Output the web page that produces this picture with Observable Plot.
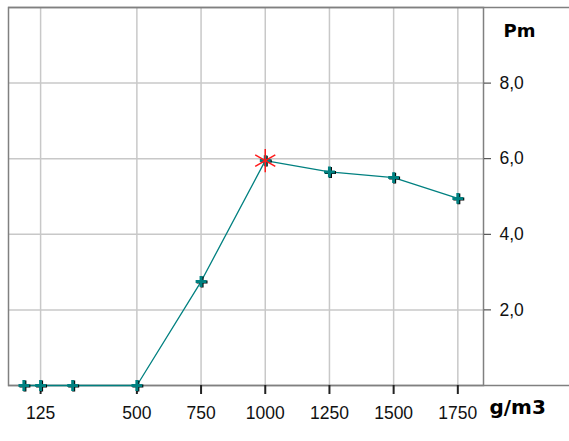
<!DOCTYPE html>
<html>
<head>
<meta charset="utf-8">
<script src="https://cdn.jsdelivr.net/npm/d3@7"></script>
<script src="https://cdn.jsdelivr.net/npm/@observablehq/plot@0.6"></script>
<style>
  html, body { margin: 0; padding: 0; background: #fff; }
  #chart svg { display: block; font-family: "Liberation Sans", Arial, sans-serif; }
</style>
</head>
<body>
<div id="chart"></div>
<script>
// Data
const concentration = [60, 125, 250, 500, 750, 1000, 1250, 1500, 1750]; // g/m3
const pressure      = [0, 0, 0, 0, 2.75, 5.95, 5.65, 5.5, 4.95];        // Pm
const xTicks = [125, 500, 750, 1000, 1250, 1500, 1750];
const yTicks = [2, 4, 6, 8];
const xDomain = [0, 1850];
const yDomain = [0, 10];
const xUnit = "g/m3";
const yUnit = "Pm";

const data = concentration.map((c, i) => ({c, p: pressure[i]}));
const maxP = d3.max(pressure);
const peak = data.filter(d => d.p === maxP);

const teal = "#008080";
const borderColor = "#808080";

// extends top & bottom border lines into the right margin (as in the reference)
function borderExtension(index, scales, values, dims) {
  const g = d3.create("svg:g").attr("stroke", borderColor).attr("stroke-width", 1.5);
  for (const v of yDomain) {
    const y = Math.round(scales.y(v)) + 0.5;
    g.append("line").attr("x1", dims.marginLeft).attr("x2", dims.width)
      .attr("y1", y).attr("y2", y);
  }
  return g.node();
}

const chart = Plot.plot({
  width: 569,
  height: 441,
  marginLeft: 8,
  marginTop: 7,
  marginRight: 86,
  marginBottom: 56,
  style: {background: "#fff", fontSize: "17px"},
  x: {domain: xDomain, label: null},
  y: {domain: yDomain, label: null},
  marks: [
    Plot.gridX(xTicks, {stroke: "#c8c8c8", strokeOpacity: 1, strokeWidth: 1.5}),
    Plot.gridY(yTicks, {stroke: "#c8c8c8", strokeOpacity: 1, strokeWidth: 1.5}),
    Plot.frame({stroke: borderColor, strokeWidth: 1.5}),
    borderExtension,
    Plot.axisX({ticks: xTicks, tickSize: 9, tickPadding: 12, tickFormat: d => String(d), label: null,
      fontSize: 17.5, stroke: "#222", strokeWidth: 2, fill: "#111"}),
    Plot.axisY({anchor: "right", ticks: yTicks, tickSize: 7, tickPadding: 9, label: null,
      tickFormat: d => d.toFixed(1).replace(".", ","), fontSize: 17.5, stroke: "#333", fill: "#111"}),
    Plot.text([yUnit], {frameAnchor: "top-right", dx: 20, dy: 17, textAnchor: "start",
      fontWeight: "bold", fontSize: 18, fontFamily: "DejaVu Sans", fill: "#000"}),
    Plot.text([xUnit], {frameAnchor: "bottom-right", dx: 6, dy: 28, textAnchor: "start",
      fontWeight: "bold", fontSize: 20, fontFamily: "DejaVu Sans", fill: "#000"}),
    Plot.line(data, {x: "c", y: "p", stroke: teal, strokeWidth: 1.3}),
    Plot.dot(data, {x: "c", y: "p", symbol: "plus", r: 3.6, stroke: "#000", strokeWidth: 3, dx: 1, dy: 0.5}),
    Plot.dot(data, {x: "c", y: "p", symbol: "plus", r: 3.6, stroke: teal, strokeWidth: 3}),
    Plot.dot(peak, {x: "c", y: "p", symbol: "asterisk", r: 11, stroke: "#ff1a1a", strokeWidth: 1.5})
  ]
});
document.getElementById("chart").appendChild(chart);
</script>
</body>
</html>
